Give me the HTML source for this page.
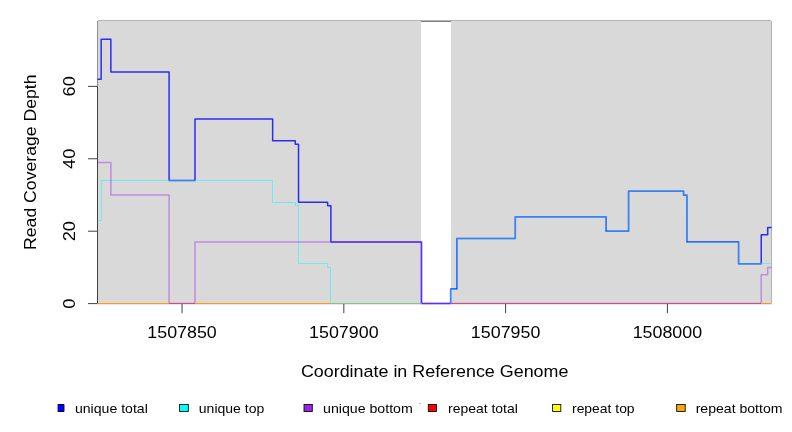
<!DOCTYPE html>
<html><head><meta charset="utf-8"><style>
html,body{margin:0;padding:0;background:#fff;width:792px;height:432px;overflow:hidden}
svg{display:block;font-family:'Liberation Sans',sans-serif;will-change:transform}
</style></head><body>
<svg width="792" height="432" viewBox="0 0 792 432" style="font-family:'Liberation Sans',sans-serif">
<rect x="98" y="21" width="673" height="282.36" fill="#d9d9d9"/>
<path d="M98,20.5H771M771.5,21V303.36" stroke="#b4b4b4" stroke-width="1" fill="none"/>
<path d="M97.5,86.37V21" stroke="#909090" stroke-width="1" fill="none"/>
<rect x="421" y="21" width="30" height="282.36" fill="#ffffff"/>
<path d="M421,21.5H451" stroke="#808080" stroke-width="1" fill="none"/>
<path d="M97.5,303.60V86.37" stroke="#404040" stroke-width="1" fill="none"/>
<path d="M97.5,303.60H88.0" stroke="#404040" stroke-width="1" fill="none"/>
<path d="M97.5,231.19H88.0" stroke="#404040" stroke-width="1" fill="none"/>
<path d="M97.5,158.78H88.0" stroke="#404040" stroke-width="1" fill="none"/>
<path d="M97.5,86.37H88.0" stroke="#404040" stroke-width="1" fill="none"/>
<path d="M97.50,79.13H101.15V39.30H110.86V71.89H169.10V180.50H194.99V118.95H272.64V140.68H295.29V144.30H298.53V202.23H327.65V205.85H330.88V242.05H421.48V303.60H450.61V289.12H457.08V238.43H515.32V216.71H605.92V231.19H628.57V191.36H683.58V194.99H686.81V242.05H738.58V263.77H761.23V234.81H767.70V227.57H771.60" stroke="#0000ff" stroke-opacity="0.8" stroke-width="1.5" fill="none" stroke-linejoin="round"/>
<path d="M97.50,220.50H101.50V180.50H272.50V202.50H295.50V205.50H298.50V263.50H327.50V267.50H330.50V303.50H421.50M450.50,303.50H450.50V289.50H457.50V238.50H515.50V216.50H605.50V231.50H628.50V191.50H683.50V194.50H686.50V242.50H738.50V263.50H771.60" stroke="#00ffff" stroke-opacity="0.5" stroke-width="1" fill="none" stroke-linejoin="round"/>
<path d="M97.50,162.40H110.86V194.99H169.10V303.60H194.99V242.05H421.48V303.60H761.23V274.64H767.70V267.40H771.60" stroke="#a020f0" stroke-opacity="0.42" stroke-width="1.5" fill="none" stroke-linejoin="round"/>
<path d="M97.50,303.5H169.10" stroke="#fb9a0c" stroke-width="1" fill="none"/>
<path d="M169.10,303.5H194.99" stroke="#c94f7c" stroke-width="1" fill="none"/>
<path d="M194.99,303.5H330.88" stroke="#fb9a0c" stroke-width="1" fill="none"/>
<path d="M330.88,303.5H421.48" stroke="#78c88a" stroke-width="1" fill="none"/>
<path d="M450.61,303.5H761.23" stroke="#c94f7c" stroke-width="1" fill="none"/>
<path d="M761.23,303.5H771.60" stroke="#fb9a0c" stroke-width="1" fill="none"/>
<path d="M97.50,304.5H421.48M450.61,304.5H771.60" stroke="#ffdce4" stroke-width="1" fill="none"/>
<path d="M182.04,304V313.20" stroke="#404040" stroke-width="1" fill="none"/>
<path d="M343.83,304V313.20" stroke="#404040" stroke-width="1" fill="none"/>
<path d="M505.61,304V313.20" stroke="#404040" stroke-width="1" fill="none"/>
<path d="M667.40,304V313.20" stroke="#404040" stroke-width="1" fill="none"/>
<text x="182.04" y="337.9" text-anchor="middle" font-size="16.7" fill="#000" textLength="69.5" lengthAdjust="spacingAndGlyphs">1507850</text>
<text x="343.83" y="337.9" text-anchor="middle" font-size="16.7" fill="#000" textLength="69.5" lengthAdjust="spacingAndGlyphs">1507900</text>
<text x="505.61" y="337.9" text-anchor="middle" font-size="16.7" fill="#000" textLength="69.5" lengthAdjust="spacingAndGlyphs">1507950</text>
<text x="667.40" y="337.9" text-anchor="middle" font-size="16.7" fill="#000" textLength="69.5" lengthAdjust="spacingAndGlyphs">1508000</text>
<text x="300.9" y="376.6" text-anchor="start" font-size="16.7" fill="#000" textLength="267.5" lengthAdjust="spacingAndGlyphs">Coordinate in Reference Genome</text>
<text transform="translate(36.4,162.2) rotate(-90)" text-anchor="middle" font-size="16.7" fill="#000" textLength="175.5" lengthAdjust="spacingAndGlyphs">Read Coverage Depth</text>
<text transform="translate(75.2,303.60) rotate(-90)" text-anchor="middle" font-size="16.7" fill="#000" textLength="10.2" lengthAdjust="spacingAndGlyphs">0</text>
<text transform="translate(75.2,231.19) rotate(-90)" text-anchor="middle" font-size="16.7" fill="#000" textLength="20.3" lengthAdjust="spacingAndGlyphs">20</text>
<text transform="translate(75.2,158.78) rotate(-90)" text-anchor="middle" font-size="16.7" fill="#000" textLength="20.3" lengthAdjust="spacingAndGlyphs">40</text>
<text transform="translate(75.2,86.37) rotate(-90)" text-anchor="middle" font-size="16.7" fill="#000" textLength="20.3" lengthAdjust="spacingAndGlyphs">60</text>
<rect x="57" y="404" width="7" height="8" fill="#0000ff"/>
<rect x="57" y="404" width="1" height="8" fill="#9999ff"/>
<path d="M58,404.5H64V411.5H58" stroke="#000" stroke-width="0.9" fill="none"/>
<text x="74.9" y="412.7" text-anchor="start" font-size="12.6" fill="#000" textLength="72.9" lengthAdjust="spacingAndGlyphs">unique total</text>
<rect x="179.6" y="404.5" width="8.70" height="7" fill="#00ffff" stroke="#000" stroke-width="0.85"/>
<text x="198.8" y="412.7" text-anchor="start" font-size="12.6" fill="#000" textLength="65.5" lengthAdjust="spacingAndGlyphs">unique top</text>
<rect x="304.0" y="404.5" width="8.30" height="7" fill="#a020f0" stroke="#000" stroke-width="0.85"/>
<text x="323.0" y="412.7" text-anchor="start" font-size="12.6" fill="#000" textLength="89.8" lengthAdjust="spacingAndGlyphs">unique bottom</text>
<rect x="428.3" y="404.5" width="8.10" height="7" fill="#ff0000" stroke="#000" stroke-width="0.85"/>
<text x="448.0" y="412.7" text-anchor="start" font-size="12.6" fill="#000" textLength="69.8" lengthAdjust="spacingAndGlyphs">repeat total</text>
<rect x="552.6" y="404.5" width="8.20" height="7" fill="#ffff00" stroke="#000" stroke-width="0.85"/>
<text x="572.0" y="412.7" text-anchor="start" font-size="12.6" fill="#000" textLength="62.6" lengthAdjust="spacingAndGlyphs">repeat top</text>
<rect x="676.7" y="404.5" width="8.50" height="7" fill="#ffa500" stroke="#000" stroke-width="0.85"/>
<text x="695.7" y="412.7" text-anchor="start" font-size="12.6" fill="#000" textLength="86.8" lengthAdjust="spacingAndGlyphs">repeat bottom</text>
<rect x="419" y="403" width="2" height="1" fill="#c4c4c4"/>
</svg>
</body></html>
